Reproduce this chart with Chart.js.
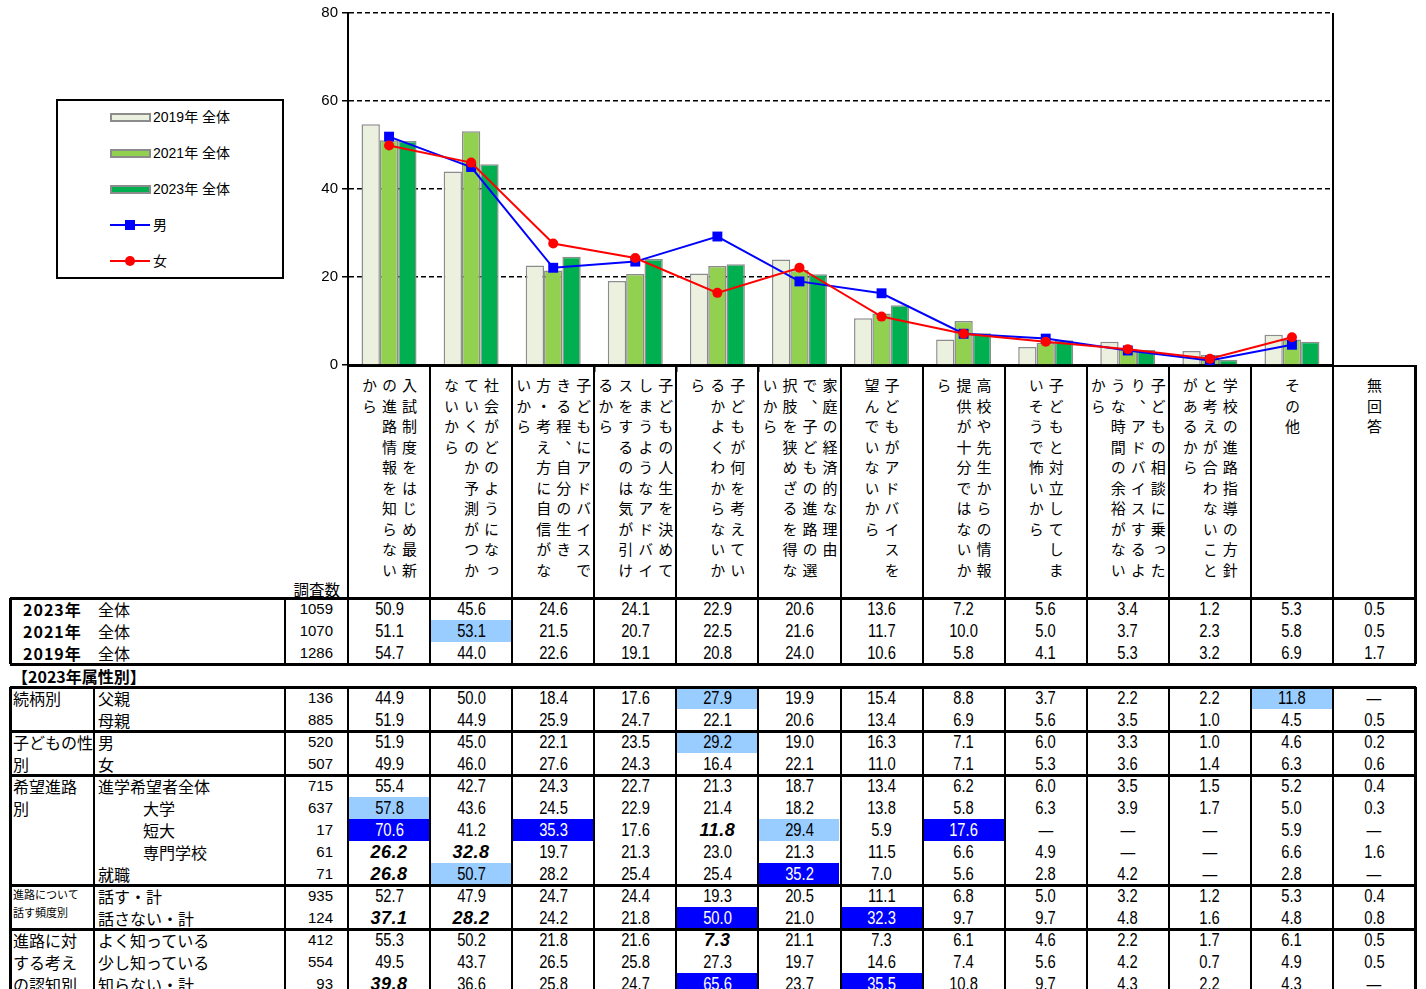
<!DOCTYPE html>
<html lang="ja">
<head>
<meta charset="utf-8">
<script src="https://cdn.jsdelivr.net/npm/chart.js@4.4.1/dist/chart.umd.min.js"></script>
<style>
html,body{margin:0;padding:0;background:#fff;}
body{width:1426px;height:989px;position:relative;overflow:hidden;font-family:'Noto Sans CJK JP','Liberation Sans',sans-serif;color:#000;}
#chart{position:absolute;left:0;top:0;z-index:5;}
#legend{position:absolute;left:56px;top:99px;width:224px;height:176px;border:2px solid #000;background:#fff;z-index:6;}
.lg-item{position:absolute;left:0;height:20px;}
.lg-sw{position:absolute;left:52px;top:6px;width:37px;height:5px;border:2px solid #8c8c8c;}
.lg-line{position:absolute;left:52px;top:9px;width:40px;height:2px;}
.lg-mk{position:absolute;}
.lg-tx{position:absolute;left:95px;top:0;font:14px 'Liberation Sans','Noto Sans CJK JP',sans-serif;line-height:20px;white-space:nowrap;}
.ln{position:absolute;background:#000;}
.cell{position:absolute;height:22px;line-height:22px;white-space:nowrap;}
.val{text-align:center;font:18px 'Liberation Sans',sans-serif;line-height:22px;}
.val span{display:inline-block;transform:scaleX(0.82);}
.val.bi{font:italic bold 18px 'Liberation Sans',sans-serif;line-height:22px;letter-spacing:0.5px;}
.val.bi span{transform:none;}
.hl-l{background:#99CCFF;}
.hl-d{background:#0000FF;color:#fff;}
.num{text-align:right;font:15px 'Liberation Sans',sans-serif;line-height:22px;}
.lab{font-size:16px;}
.hd{position:absolute;display:flex;justify-content:center;box-sizing:border-box;padding-top:13px;}
.hd div{writing-mode:vertical-rl;font:15px 'Noto Sans CJK JP',sans-serif;line-height:20px;letter-spacing:5.5px;white-space:nowrap;}
</style>
</head>
<body>
<canvas id="chart" width="1426" height="378"></canvas>
<div id="legend"></div>
<div id="table"></div>
<script>
// ── Datos ─────────────────────────────────────────────────────────────────────
const HEADER_LINES = [
  ['入試制度をはじめ最新','の進路情報を知らない','から'],
  ['社会がどのようになっ','ていくのか予測がつか','ないから'],
  ['子どもにアドバイスで','きる程、自分の生き','方・考え方に自信がな','いから'],
  ['子どもの人生を決めて','しまうようなアドバイ','スをするのは気が引け','るから'],
  ['子どもが何を考えてい','るかよくわからないか','ら'],
  ['家庭の経済的な理由','で、子どもの進路の選','択肢を狭めざるを得な','いから'],
  ['子どもがアドバイスを','望んでいないから'],
  ['高校や先生からの情報','提供が十分ではないか','ら'],
  ['子どもと対立してしま','いそうで怖いから'],
  ['子どもの相談に乗った','り、アドバイスするよ','うな時間の余裕がない','から'],
  ['学校の進路指導の方針','と考えが合わないこと','があるから'],
  ['その他'],
  ['無回答']
];
const CATEGORIES = HEADER_LINES.map(l => l.join(''));
const N_CHART = 12; // 無回答 no se grafica

const V2023 = [50.9,45.6,24.6,24.1,22.9,20.6,13.6,7.2,5.6,3.4,1.2,5.3,0.5];
const V2021 = [51.1,53.1,21.5,20.7,22.5,21.6,11.7,10.0,5.0,3.7,2.3,5.8,0.5];
const V2019 = [54.7,44.0,22.6,19.1,20.8,24.0,10.6,5.8,4.1,5.3,3.2,6.9,1.7];
const MALE   = [51.9,45.0,22.1,23.5,29.2,19.0,16.3,7.1,6.0,3.3,1.0,4.6,0.2];
const FEMALE = [49.9,46.0,27.6,24.3,16.4,22.1,11.0,7.1,5.3,3.6,1.4,6.3,0.6];

const TOTAL_YEARS = ['2023年','2021年','2019年'];
const TOTAL_N     = [1059, 1070, 1286];
const TOTAL_VALS  = [V2023, V2021, V2019];
const TOTAL_HL    = ['.............','.l...........','.............'];

const Y_TICKS = [0, 20, 40, 60, 80];

const ATTR_GROUPS = [
  {lines:['続柄別'], rows:2},
  {lines:['子どもの性','別'], rows:2},
  {lines:['希望進路','別'], rows:5},
  {lines:['進路について','話す頻度別'], rows:2, small:true},
  {lines:['進路に対','する考え','の認知別'], rows:3}
];
const ATTR_LABELS = ['父親','母親','男','女','進学希望者全体','大学','短大','専門学校','就職','話す・計','話さない・計','よく知っている','少し知っている','知らない・計'];
const ATTR_INDENT = [0,0,0,0,0,1,1,1,0,0,0,0,0,0];
const ATTR_N = [136,885,520,507,715,637,17,61,71,935,124,412,554,93];
const ATTR_VALS = [
  [44.9,50.0,18.4,17.6,27.9,19.9,15.4,8.8,3.7,2.2,2.2,11.8,null],
  [51.9,44.9,25.9,24.7,22.1,20.6,13.4,6.9,5.6,3.5,1.0,4.5,0.5],
  MALE,
  FEMALE,
  [55.4,42.7,24.3,22.7,21.3,18.7,13.4,6.2,6.0,3.5,1.5,5.2,0.4],
  [57.8,43.6,24.5,22.9,21.4,18.2,13.8,5.8,6.3,3.9,1.7,5.0,0.3],
  [70.6,41.2,35.3,17.6,11.8,29.4,5.9,17.6,null,null,null,5.9,null],
  [26.2,32.8,19.7,21.3,23.0,21.3,11.5,6.6,4.9,null,null,6.6,1.6],
  [26.8,50.7,28.2,25.4,25.4,35.2,7.0,5.6,2.8,4.2,null,2.8,null],
  [52.7,47.9,24.7,24.4,19.3,20.5,11.1,6.8,5.0,3.2,1.2,5.3,0.4],
  [37.1,28.2,24.2,21.8,50.0,21.0,32.3,9.7,9.7,4.8,1.6,4.8,0.8],
  [55.3,50.2,21.8,21.6,7.3,21.1,7.3,6.1,4.6,2.2,1.7,6.1,0.5],
  [49.5,43.7,26.5,25.8,27.3,19.7,14.6,7.4,5.6,4.2,0.7,4.9,0.5],
  [39.8,36.6,25.8,24.7,65.6,23.7,35.5,10.8,9.7,4.3,2.2,4.3,null]
];
// l = celeste, d = azul, i = negrita cursiva
const ATTR_HL = [
  '....l......l.',
  '.............',
  '....l........',
  '.............',
  '.............',
  'l............',
  'd.d.il.d.....',
  'ii...........',
  'il...d.......',
  '.............',
  'ii..d.d......',
  '....i........',
  '.............',
  'i...d.d......'
];

// ── Gráfica ───────────────────────────────────────────────────────────────────
const COL_BAR = ['#EBF1DE', '#92D050', '#00B050'];
const BAR_BORDER = '#8c8c8c';

const datasets = [
  { type:'line', label:'女', data:FEMALE.slice(0,N_CHART), borderColor:'#FF0000', backgroundColor:'#FF0000',
    borderWidth:2, pointStyle:'circle', pointRadius:5, pointBorderWidth:0, tension:0, order:0 },
  { type:'line', label:'男', data:MALE.slice(0,N_CHART), borderColor:'#0000FF', backgroundColor:'#0000FF',
    borderWidth:2, pointStyle:'rect', pointRadius:7, pointBorderWidth:0, tension:0, order:1 },
  { type:'bar', label:'2019年 全体', data:V2019.slice(0,N_CHART), backgroundColor:COL_BAR[0], borderColor:BAR_BORDER, borderWidth:1.5, categoryPercentage:0.67, barPercentage:1, order:2 },
  { type:'bar', label:'2021年 全体', data:V2021.slice(0,N_CHART), backgroundColor:COL_BAR[1], borderColor:BAR_BORDER, borderWidth:1.5, categoryPercentage:0.67, barPercentage:1, order:2 },
  { type:'bar', label:'2023年 全体', data:V2023.slice(0,N_CHART), backgroundColor:COL_BAR[2], borderColor:BAR_BORDER, borderWidth:1.5, categoryPercentage:0.67, barPercentage:1, order:2 }
];

new Chart(document.getElementById('chart'), {
  data: { labels: CATEGORIES.slice(0, N_CHART), datasets },
  options: {
    responsive:false, animation:false, devicePixelRatio:1,
    layout:{ padding:{ left:290, right:93, top:13, bottom:0 } },
    plugins:{ legend:{display:false}, tooltip:{enabled:false} },
    scales:{
      x:{ offset:true,
          grid:{ offset:true, drawOnChartArea:false, drawTicks:true, tickLength:7, color:'#000', lineWidth:1.5 },
          border:{ display:true, color:'#000', width:2 },
          ticks:{ display:false },
          afterFit: s => { s.height = 9; } },
      y:{ min:0, max:80,
          afterBuildTicks: s => { s.ticks = Y_TICKS.map(v => ({value:v})); },
          ticks:{ color:'#000', padding:4, font:{ family:"'Liberation Sans',sans-serif", size:15 } },
          grid:{ color:'#000', lineWidth:1.5, tickLength:6, tickBorderDash:[] },
          border:{ display:true, color:'#000', width:2, dash:[5,3] },
          afterFit: s => { s.width = 58; } }
    }
  },
  plugins:[{ id:'bordeDerecho', afterDraw(chart) {
    const {ctx, chartArea:a} = chart;
    ctx.save();
    ctx.strokeStyle = '#000'; ctx.lineWidth = 2;
    ctx.beginPath(); ctx.moveTo(a.right, a.top); ctx.lineTo(a.right, a.bottom); ctx.stroke();
    ctx.restore();
  }}]
});

// ── Leyenda ───────────────────────────────────────────────────────────────────
const legend = document.getElementById('legend');
const legendOrder = [2, 3, 4, 1, 0];
legendOrder.forEach((di, k) => {
  const ds = datasets[di];
  const it = document.createElement('div');
  it.className = 'lg-item';
  it.style.top = (6 + k*36) + 'px';
  it.style.width = '224px';
  if (ds.type === 'bar') {
    it.innerHTML = `<div class="lg-sw" style="background:${ds.backgroundColor}"></div>`;
  } else {
    const round = ds.pointStyle === 'circle';
    const sz = 10;
    it.innerHTML = `<div class="lg-line" style="background:${ds.borderColor}"></div>` +
      `<div class="lg-mk" style="left:${72-sz/2}px;top:${10-sz/2}px;width:${sz}px;height:${sz}px;background:${ds.borderColor};border-radius:${round?'50%':'0'}"></div>`;
  }
  it.innerHTML += `<div class="lg-tx">${ds.label}</div>`;
  legend.appendChild(it);
});

// ── Tabla ─────────────────────────────────────────────────────────────────────
const T = document.getElementById('table');
const X0 = 348, CW = 985 / 12, XR = X0 + CW * 13;
const colX = i => X0 + CW * i;

function el(cls, x, y, w, h, html, extra) {
  const d = document.createElement('div');
  d.className = cls;
  d.style.left = x + 'px'; d.style.top = y + 'px';
  if (w != null) d.style.width = w + 'px';
  if (h != null) d.style.height = h + 'px';
  if (extra) Object.assign(d.style, extra);
  if (html != null) d.innerHTML = html;
  T.appendChild(d);
  return d;
}
const hline = (x1, x2, y, t) => el('ln', x1, y - t/2, x2 - x1, t);
const vline = (x, y1, y2, t) => el('ln', x - t/2, y1, t, y2 - y1);
const fmt = v => v == null ? '—' : v.toFixed(1);

function valueCells(vals, hl, y) {
  vals.forEach((v, i) => {
    const m = hl[i];
    let cls = 'cell val';
    if (m === 'l') cls += ' hl-l';
    if (m === 'd') cls += ' hl-d';
    if (m === 'i') cls += ' bi';
    el(cls, colX(i) + 1, y, CW - 2, 22, '<span>' + fmt(v) + '</span>');
  });
}

// encabezado
const HY1 = 365, HY2 = 598;
HEADER_LINES.forEach((lines, i) => {
  const d = el('hd', colX(i), HY1, CW, HY2 - HY1);
  const t = document.createElement('div');
  t.innerHTML = lines.join('<br>');
  d.appendChild(t);
});
el('cell', 282, 578, 58, 22, '調査数', {textAlign:'right', fontSize:'15.5px'});

// bloque total
const B1 = 598;
TOTAL_YEARS.forEach((yr, r) => {
  const y = B1 + r * 22;
  el('cell lab', 23, y, 70, 22, yr, {fontWeight:'bold', letterSpacing:'1px'});
  el('cell lab', 98, y, 60, 22, '全体');
  el('cell num', 285, y, 48, 22, TOTAL_N[r]);
  valueCells(TOTAL_VALS[r], TOTAL_HL[r], y);
});
const B1E = B1 + 66;
el('cell lab', 12, B1E + 1, 200, 22, '【2023年属性別】', {fontWeight:'bold'});

// bloque atributos
const B2 = 687;
let r0 = 0;
const groupLines = [];
ATTR_GROUPS.forEach(g => {
  const y = B2 + r0 * 22;
  const lh = g.small ? 18 : 22;
  el('cell', 13, y, 80, g.rows * 22, g.lines.join('<br>'),
    {fontSize: g.small ? '11px' : '16px', lineHeight: lh + 'px'});
  r0 += g.rows;
  groupLines.push(B2 + r0 * 22);
});
ATTR_LABELS.forEach((lab, r) => {
  const y = B2 + r * 22;
  el('cell lab', ATTR_INDENT[r] ? 143 : 98, y, 180, 22, lab);
  el('cell num', 285, y, 48, 22, ATTR_N[r]);
  valueCells(ATTR_VALS[r], ATTR_HL[r], y);
});

// líneas
const THIN = 2, THICK = 3;
hline(X0, XR, HY1 + 1, THIN);
for (let i = 0; i <= 13; i++) vline(colX(i), HY1, HY2, i === 13 ? THICK : THIN);
hline(10, XR + 1, B1, THICK);
hline(10, XR + 1, B1E, THICK);
vline(10, B1, B1E, THICK);
vline(285, B1, B1E, THIN);
for (let i = 0; i <= 13; i++) vline(colX(i), B1, B1E, i === 13 ? THICK : THIN);
const B2E = 1000;
hline(10, XR + 1, B2, THICK);
groupLines.slice(0, -1).forEach(y => hline(10, XR + 1, y, THICK));
vline(10, B2, B2E, THICK);
vline(94, B2, B2E, THIN);
vline(285, B2, B2E, THIN);
for (let i = 0; i <= 13; i++) vline(colX(i), B2, B2E, i === 13 ? THICK : THIN);
</script>
</body>
</html>
